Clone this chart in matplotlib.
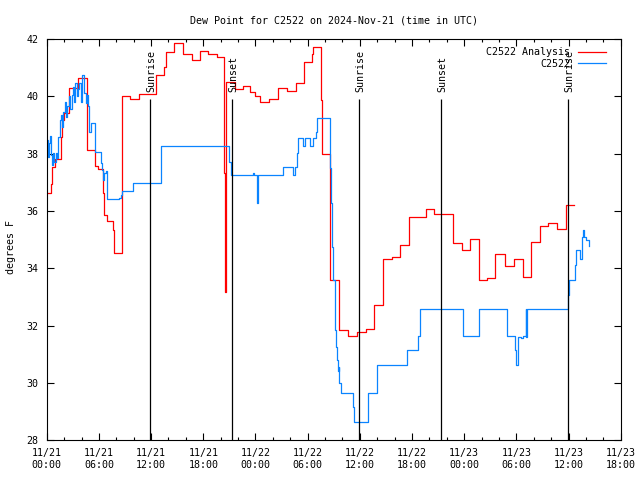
import matplotlib
matplotlib.use("Agg")
import matplotlib.pyplot as plt

# hours since 2024-11-21 00:00 UTC
red_hours = [0.0, 0.49, 0.6, 0.95, 1.64, 1.8, 1.95, 2.6, 3.56, 4.6, 5.55, 5.9,
             6.5, 6.6, 6.9, 7.6, 7.68, 7.74, 8.62, 9.57, 10.6, 12.56, 13.5, 13.71,
             14.63, 15.63, 16.66, 17.62, 18.58, 19.54, 20.38, 20.45, 20.62, 21.64,
             22.6, 23.4, 23.94, 24.52, 25.59, 26.63, 27.66, 28.66, 29.61, 30.5,
             30.57, 31.53, 31.68, 32.56, 33.63, 34.6, 35.7, 36.67, 37.62, 38.62,
             39.66, 40.61, 41.64, 43.6, 44.55, 46.67, 47.7, 48.66, 49.65, 50.6,
             51.55, 52.68, 53.71, 54.71, 55.67, 56.7, 57.66, 58.62, 59.66, 60.64]
red_vals = [36.62, 36.94, 37.55, 37.81, 38.6, 39.18, 39.41, 40.29, 40.64, 38.13,
            37.57, 37.46, 36.62, 35.86, 35.65, 35.34, 34.87, 34.54, 40.0, 39.9,
            40.09, 40.75, 41.02, 41.57, 41.88, 41.49, 41.28, 41.6, 41.49, 41.39,
            37.33, 33.18, 40.52, 40.25, 40.35, 40.15, 40.0, 39.82, 39.9, 40.29,
            40.2, 40.46, 41.22, 41.49, 41.72, 39.88, 37.99, 33.6, 31.85, 31.63,
            31.79, 31.87, 32.71, 34.31, 34.41, 34.81, 35.78, 36.06, 35.89, 34.87,
            34.64, 35.01, 33.6, 33.65, 34.5, 34.08, 34.31, 33.68, 34.92, 35.48,
            35.57, 35.36, 36.21, 36.21]

blue_hours = [0.0, 0.08, 0.2, 0.31, 0.38, 0.5, 0.65, 0.77, 0.88, 1.03, 1.19, 1.34,
              1.53, 1.64, 1.76, 1.91, 2.07, 2.22, 2.37, 2.53, 2.68, 2.87, 2.99,
              3.14, 3.29, 3.45, 3.6, 3.76, 3.91, 4.1, 4.25, 4.52, 4.67, 4.79, 4.9,
              5.06, 5.59, 6.2, 6.32, 6.47, 6.59, 6.78, 6.9, 8.35, 8.55, 8.62, 9.27,
              9.96, 13.1, 20.99, 21.14, 23.7, 23.8, 24.15, 24.25, 27.2, 28.27,
              28.54, 28.8, 28.92, 29.43, 29.69, 30.26, 30.57, 30.92, 31.03, 32.56,
              32.6, 32.7, 32.83, 32.94, 33.1, 33.25, 33.4, 33.5, 33.55, 33.63,
              33.79, 35.24, 35.32, 36.9, 37.93, 41.45, 42.72, 42.91, 47.89, 49.72,
              52.87, 53.83, 53.94, 54.2, 54.5, 54.78, 55.09, 55.15, 55.24, 59.95,
              60.07, 60.72, 60.8, 61.3, 61.49, 61.61, 61.77, 62.0, 62.3]
blue_vals = [38.23, 38.48, 37.9, 38.36, 38.62, 37.96, 37.61, 38.02, 37.72, 38.04,
             37.84, 38.6, 39.18, 39.35, 38.95, 39.47, 39.82, 39.27, 39.65, 40.0,
             39.55, 40.05, 40.34, 39.82, 40.46, 40.02, 40.25, 40.46, 39.82, 40.75,
             40.11, 39.76, 40.05, 39.65, 38.77, 39.06, 38.07, 37.67, 37.43, 37.08,
             37.32, 37.38, 36.41, 36.44, 36.56, 36.69, 36.71, 36.97, 38.27, 37.72,
             37.25, 37.32, 37.25, 36.27, 37.25, 37.53, 37.25, 37.53, 38.02, 38.54,
             38.27, 38.54, 38.27, 38.54, 38.77, 39.24, 38.7, 37.5, 36.27, 34.75,
             33.59, 31.84, 31.26, 30.8, 30.4, 30.56, 29.98, 29.63, 29.16, 28.64,
             29.63, 30.62, 31.14, 31.63, 32.57, 31.63, 32.57, 31.63, 31.14, 30.62,
             31.61, 31.55, 31.65, 32.57, 31.61, 32.57, 33.07, 33.59, 34.11, 34.64,
             34.34, 35.1, 35.33, 35.1, 35.0, 34.78]

sunrise_hours = [11.9, 35.92, 59.94]
sunset_hours = [21.33, 45.35]

tick_hours = list(range(0, 67, 6))
tick_labels = ["11/21\n00:00", "11/21\n06:00", "11/21\n12:00", "11/21\n18:00",
               "11/22\n00:00", "11/22\n06:00", "11/22\n12:00", "11/22\n18:00",
               "11/23\n00:00", "11/23\n06:00", "11/23\n12:00", "11/23\n18:00"]

plt.rcParams["font.family"] = ["DejaVu Sans Mono"]
plt.rcParams["font.size"] = 7.2

fig = plt.figure(figsize=(6.4, 4.8), dpi=100)
ax = fig.add_axes([0.073, 0.0833, 0.897, 0.835])

ax.plot(red_hours, red_vals, color="#ff0000", lw=0.9, drawstyle="steps-post",
        label="C2522 Analysis")
ax.plot(blue_hours, blue_vals, color="#0a84ff", lw=0.9, drawstyle="steps-post",
        label="C2522")

for h in sunrise_hours:
    ax.vlines(h, 28, 39.9, color="black", lw=0.9)
    ax.text(h + 0.1, 40.16, "Sunrise", rotation=90, ha="center", va="bottom")
for h in sunset_hours:
    ax.vlines(h, 28, 39.9, color="black", lw=0.9)
    ax.text(h + 0.1, 40.16, "Sunset", rotation=90, ha="center", va="bottom")

ax.set_xlim(0, 66)
ax.set_ylim(28, 42)
ax.set_xticks(tick_hours)
ax.set_xticklabels(tick_labels)
ax.set_xticks(range(0, 67, 2), minor=True)
ax.set_yticks(range(28, 43, 2))
ax.tick_params(which="both", direction="in", top=True, right=True, width=0.8)
ax.tick_params(which="major", length=5, pad=6)
ax.tick_params(which="minor", length=2.5)
for s in ax.spines.values():
    s.set_linewidth(0.8)

ax.set_title("Dew Point for C2522 on 2024-Nov-21 (time in UTC)", fontsize=7.2, pad=11)
fig.text(0.017, 0.485, "degrees F", rotation=90, ha="center", va="center")

ax.legend(loc="upper right", bbox_to_anchor=(0.985, 0.995), markerfirst=False,
          frameon=False, handlelength=2.8, handletextpad=0.8, labelspacing=0.15,
          borderaxespad=0.2)

fig.savefig("out.png", dpi=100)
